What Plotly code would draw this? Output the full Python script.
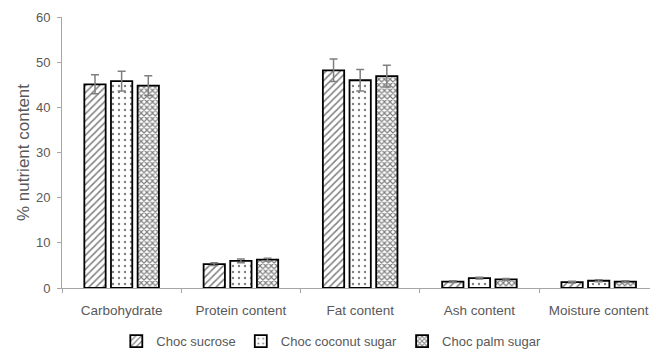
import plotly.graph_objects as go

categories = ["Carbohydrate", "Protein content", "Fat content", "Ash content", "Moisture content"]
series_names = ["Choc sucrose", "Choc coconut sugar", "Choc palm sugar"]
sucrose = [45.1, 5.3, 48.2, 1.4, 1.3]
coconut = [45.8, 6.0, 46.0, 2.2, 1.6]
palm = [44.8, 6.3, 46.9, 1.9, 1.4]
sucrose_err = [2.1, 0.3, 2.5, 0.2, 0.2]
coconut_err = [2.2, 0.4, 2.4, 0.2, 0.2]
palm_err = [2.2, 0.3, 2.4, 0.2, 0.2]
y_ticks = [0, 10, 20, 30, 40, 50, 60]

values = [sucrose, coconut, palm]
errors = [sucrose_err, coconut_err, palm_err]
patterns = [dict(shape="/", size=5, solidity=0.3, fgcolor="black", bgcolor="white"),
            dict(shape=".", size=6, solidity=0.12, fgcolor="black", bgcolor="white"),
            dict(shape="x", size=4, solidity=0.5, fgcolor="black", bgcolor="white")]

fig = go.Figure()
for name, v, e, p in zip(series_names, values, errors, patterns):
    fig.add_trace(go.Bar(
        x=categories, y=v, name=name,
        marker=dict(color="white", pattern=p, line=dict(color="black", width=1.8)),
        error_y=dict(type="data", array=e, visible=True, color="#7f7f7f", thickness=1.5, width=4),
    ))

grey = "#595959"
fig.update_layout(
    width=650, height=349,
    margin=dict(l=62, r=0, t=17, b=61, autoexpand=False),
    plot_bgcolor="white", paper_bgcolor="white",
    barmode="group", bargap=0.33, bargroupgap=0.2,
    font=dict(family="Liberation Sans", size=13, color=grey),
    showlegend=True,
    legend=dict(orientation="h", x=0.458, xanchor="center", y=-0.196, yanchor="middle",
                font=dict(size=13, color=grey), itemwidth=30, tracegroupgap=0),
    xaxis=dict(range=[-0.5, 4.43], showline=True, linecolor="#a6a6a6", linewidth=1,
               ticks="outside", tickson="boundaries", ticklen=4, tickcolor="#a6a6a6",
               tickfont=dict(size=13.5, color=grey), automargin=False, ticklabelstandoff=10),
    yaxis=dict(range=[0, 60], tickvals=y_ticks, showline=True, linecolor="#a6a6a6", linewidth=1,
               ticks="outside", ticklen=4, tickcolor="#a6a6a6", showgrid=False, zeroline=False,
               tickfont=dict(size=13, color=grey), automargin=False, ticklabelstandoff=4,
               title=dict(text="% nutrient content", font=dict(size=17, color=grey), standoff=1)),
)

fig.write_html("out.html", config={"displayModeBar": False},
               post_script="document.body.style.margin='0';document.body.style.overflow='hidden';")
